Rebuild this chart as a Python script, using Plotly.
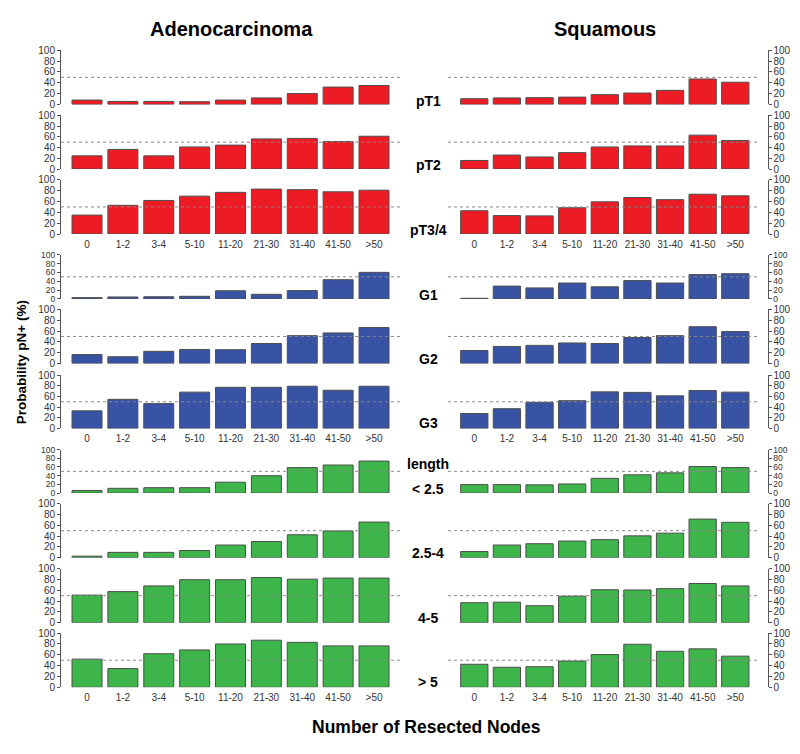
"""Probability of pN+ by number of resected nodes, adenocarcinoma vs squamous."""

import plotly.graph_objects as go

# categories on the x axis
node_groups = ["0", "1-2", "3-4", "5-10", "11-20", "21-30", "31-40", "41-50", ">50"]

# subgroup labels shown between the two columns
row_labels = ["pT1", "pT2", "pT3/4", "G1", "G2", "G3", "< 2.5", "2.5-4", "4-5", "> 5"]

# probability pN+ (%) - adenocarcinoma
adeno_pt1 = [8, 5.5, 5.5, 5, 8, 12, 20, 32, 35]
adeno_pt2 = [24.5, 36.5, 24.5, 41, 44.5, 56, 57, 51, 61]
adeno_pt34 = [35, 53, 62, 70, 77, 83, 82, 78, 81]
adeno_g1 = [3, 4.5, 5, 6, 18.5, 10.5, 19, 43.5, 60]
adeno_g2 = [16.5, 12.5, 22.5, 26, 25.5, 37, 51.5, 56.5, 66.5]
adeno_g3 = [33, 54.5, 46.5, 68, 77, 77, 79, 71.5, 79]
adeno_len_lt25 = [6, 11, 12.5, 12.5, 25, 40, 58.5, 64.5, 73.5]
adeno_len_25_4 = [3, 10, 10, 13.5, 23.5, 30, 42.5, 49.5, 66]
adeno_len_4_5 = [51, 57.5, 68, 79.5, 79.5, 83.5, 80.5, 82.5, 82.5]
adeno_len_gt5 = [52, 34.5, 62, 69, 80, 87, 83, 76.5, 76.5]

# probability pN+ (%) - squamous
squam_pt1 = [10.5, 12, 12.5, 13.5, 18, 21, 26, 47, 41]
squam_pt2 = [16, 26, 22.5, 30.5, 41, 43, 43, 63, 53]
squam_pt34 = [43, 34, 33.5, 48.5, 59.5, 67.5, 63.5, 73.5, 70.5]
squam_g1 = [1.5, 29, 25, 36, 27.5, 41.5, 36, 55, 57]
squam_g2 = [24, 31.5, 33.5, 38, 37, 48, 51.5, 68, 59]
squam_g3 = [28, 37, 49, 52, 68.5, 67.5, 61, 71, 68]
squam_len_lt25 = [19.5, 19.5, 19, 21, 34, 42, 46.5, 61, 58.5]
squam_len_25_4 = [11.5, 23.5, 26, 31, 33.5, 40.5, 45.5, 71.5, 65.5]
squam_len_4_5 = [37, 38, 31.5, 49, 61, 60.5, 63, 72.5, 68]
squam_len_gt5 = [42.5, 37, 38, 48.5, 60.5, 79.5, 66.5, 71, 57.5]

adeno_rows = [adeno_pt1, adeno_pt2, adeno_pt34, adeno_g1, adeno_g2, adeno_g3,
              adeno_len_lt25, adeno_len_25_4, adeno_len_4_5, adeno_len_gt5]
squam_rows = [squam_pt1, squam_pt2, squam_pt34, squam_g1, squam_g2, squam_g3,
              squam_len_lt25, squam_len_25_4, squam_len_4_5, squam_len_gt5]

RED = "#ED1C24"
BLUE = "#3953A4"
GREEN = "#3DB54A"
row_colors = [RED] * 3 + [BLUE] * 3 + [GREEN] * 4

W, H = 800, 754
FONT = "Liberation Sans, Arial, sans-serif"

# pixel positions of the 100 and 0 ticks for every row
row_top = [45, 111, 176.7, 252.7, 308.3, 375, 450.7, 505.7, 571.7, 637.3]
row_bottom = [100, 165.7, 231.7, 297.7, 363.3, 429.3, 495, 560.7, 626.7, 692.3]
label_y = [97, 162, 228, 294, 359, 424, 491, 556, 622, 687]
show_xlabels = [False, False, True, False, False, True, False, False, False, True]

# plot regions (pixels) and category ranges for both columns
col_x = [(61, 402), (448, 760)]
col_range = [(-0.725, 8.78), (-0.806, 8.757)]
right_axis_x = 767.5


def px_x(v):
    return v / W


def px_y(v):
    return 1 - v / H


fig = go.Figure()
layout = {}
shapes = []

for r in range(10):
    # the first row of a group is squeezed, so its tick labels get a smaller font
    tick_size = 8.5 if (row_bottom[r] - row_top[r]) < 50 else 10
    for c in range(2):
        k = r * 2 + c + 1
        xa = "x" if k == 1 else f"x{k}"
        ya = "y" if k == 1 else f"y{k}"
        values = adeno_rows[r] if c == 0 else squam_rows[r]

        fig.add_trace(go.Bar(
            x=node_groups,
            y=values,
            xaxis=xa,
            yaxis=ya,
            width=0.836,
            marker=dict(color=row_colors[r], line=dict(color="#4d4d4d", width=1)),
            showlegend=False,
            hoverinfo="x+y",
        ))

        layout[f"xaxis{k}"] = dict(
            domain=[px_x(col_x[c][0]), px_x(col_x[c][1])],
            anchor=ya,
            type="category",
            categoryorder="array",
            categoryarray=node_groups,
            range=list(col_range[c]),
            showline=False,
            showgrid=False,
            zeroline=False,
            ticks="",
            showticklabels=show_xlabels[r],
            tickfont=dict(family=FONT, size=10, color="#333333"),
            ticklabelstandoff=3,
        )
        yax = dict(
            domain=[px_y(row_bottom[r]), px_y(row_top[r])],
            range=[0, 100],
            tickvals=[0, 20, 40, 60, 80, 100],
            ticks="outside",
            ticklen=3,
            tickcolor="#555555",
            showline=True,
            linecolor="#555555",
            linewidth=1,
            showgrid=False,
            zeroline=False,
            tickfont=dict(family=FONT, size=tick_size, color="#333333"),
        )
        if c == 0:
            yax.update(anchor=xa, side="left")
        else:
            yax.update(anchor="free", position=px_x(right_axis_x), side="right")
        layout[f"yaxis{k}"] = yax

        # dotted reference line at 50%
        shapes.append(dict(
            type="line", xref=f"{xa} domain", yref=ya,
            x0=0, x1=1, y0=50, y1=50,
            line=dict(color="#888888", width=1, dash="dot"),
        ))

annotations = [
    dict(text="<b>Adenocarcinoma</b>", x=px_x(231), y=px_y(23),
         font=dict(size=20, color="black")),
    dict(text="<b>Squamous</b>", x=px_x(605), y=px_y(23),
         font=dict(size=20, color="black")),
    dict(text="<b>Number of Resected Nodes</b>", x=px_x(427), y=px_y(733),
         font=dict(size=17.5, color="black")),
    dict(text="<b>Probability pN+ (%)</b>", x=px_x(21), y=px_y(362), textangle=-90,
         font=dict(size=13.5, color="black")),
    dict(text="<b>length</b>", x=px_x(428), y=px_y(465),
         font=dict(size=14, color="black")),
]
for r, lab in enumerate(row_labels):
    annotations.append(dict(text=f"<b>{lab}</b>", x=px_x(428), y=px_y(label_y[r]),
                            font=dict(size=14, color="black")))

for a in annotations:
    a.update(xref="paper", yref="paper", showarrow=False, xanchor="center", yanchor="middle")
    a["font"]["family"] = FONT

fig.update_layout(
    width=W,
    height=H,
    margin=dict(l=0, r=0, t=0, b=0),
    paper_bgcolor="white",
    plot_bgcolor="white",
    font=dict(family=FONT),
    shapes=shapes,
    annotations=annotations,
    **layout,
)

# drop the default page margin and scrollbars so the figure fills the window exactly
page_css = ("document.documentElement.style.margin='0';"
            "document.documentElement.style.overflow='hidden';"
            "document.body.style.margin='0';"
            "document.body.style.overflow='hidden';")
fig.write_html("out.html", config={"displayModeBar": False}, post_script=page_css)
